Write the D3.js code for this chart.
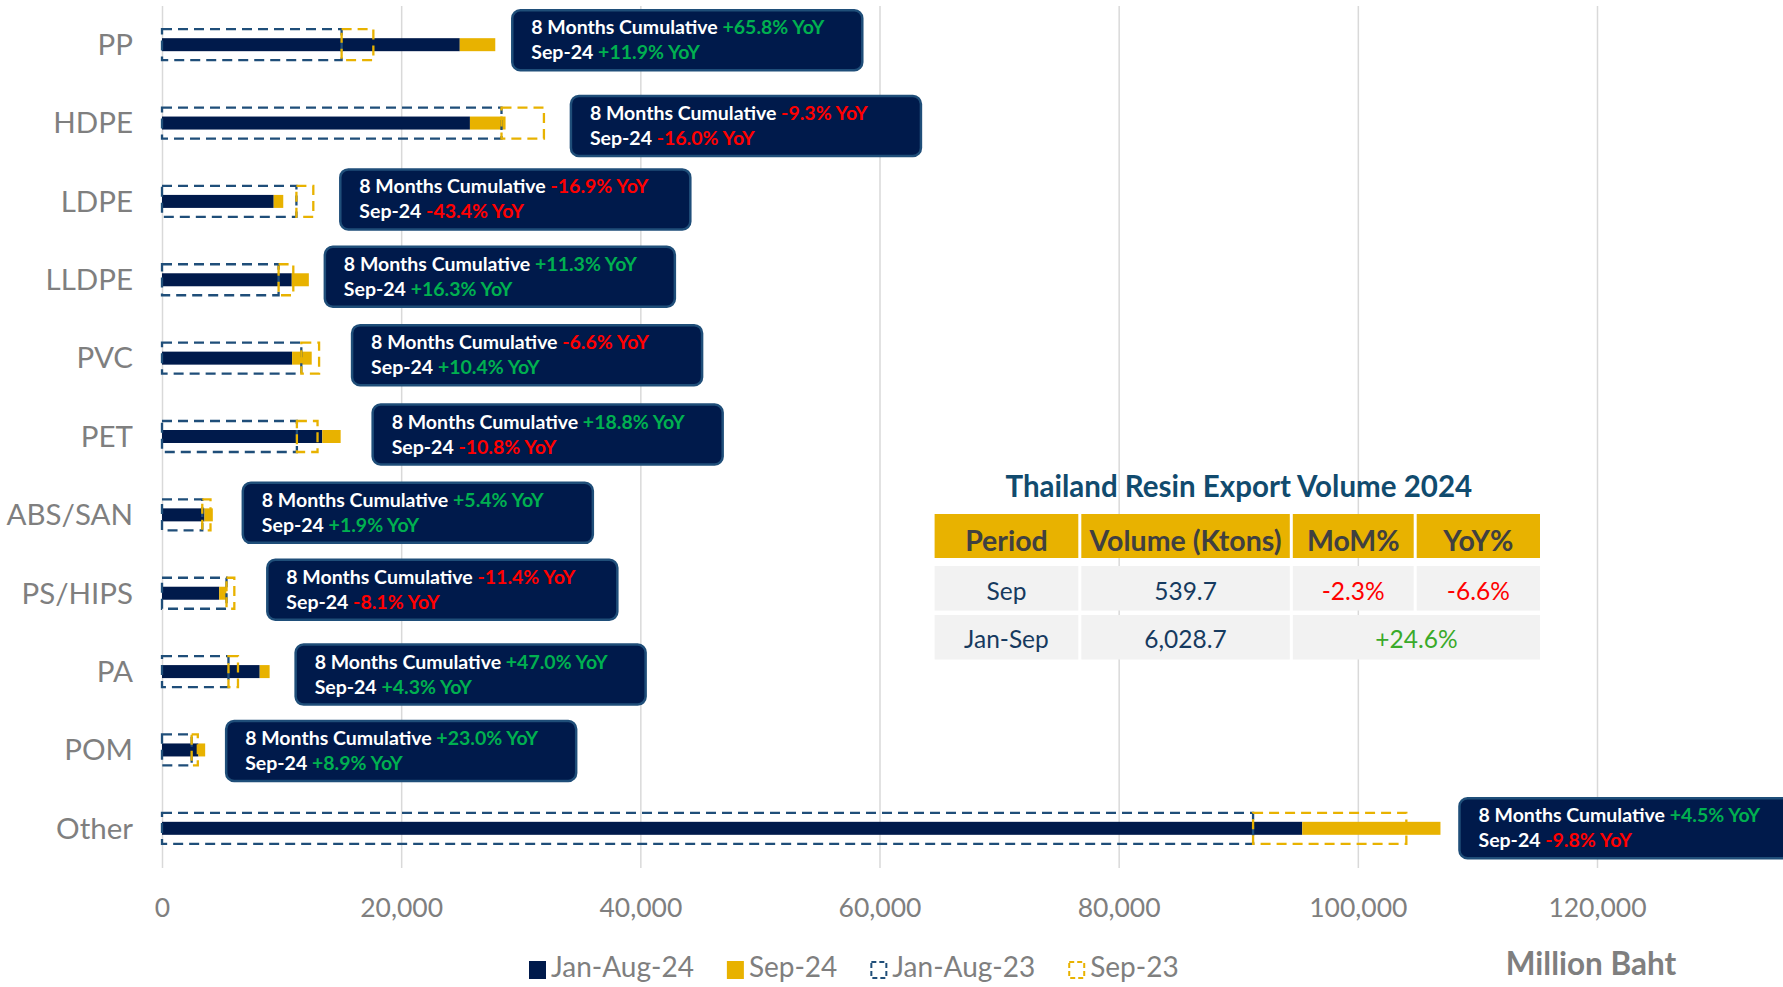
<!DOCTYPE html>
<html>
<head>
<meta charset="utf-8">
<script src="https://cdn.jsdelivr.net/npm/d3@7"></script>
<style>
  html, body { margin: 0; padding: 0; background: #ffffff; }
  svg { display: block; font-family: Lato, "Open Sans", sans-serif; }
</style>
</head>
<body>
<svg id="chart" width="1783" height="987"></svg>
<script>
// ---------------- DATA ----------------
const categories = ["PP", "HDPE", "LDPE", "LLDPE", "PVC", "PET", "ABS/SAN", "PS/HIPS", "PA", "POM", "Other"];
const janAug24 = [24900, 25750, 9340, 10850, 10880, 13400, 3550, 4780, 8170, 3050, 95350];
const sep24    = [2970, 2980, 800, 1430, 1640, 1540, 700, 600, 830, 560, 11560];
const janAug23 = [15020, 28390, 11240, 9750, 11650, 11280, 3368, 5395, 5558, 2480, 91240];
const sep23    = [2654, 3548, 1413, 1230, 1486, 1726, 687, 653, 796, 514, 12816];
const cumYoY   = [65.8, -9.3, -16.9, 11.3, -6.6, 18.8, 5.4, -11.4, 47.0, 23.0, 4.5];
const sepYoY   = [11.9, -16.0, -43.4, 16.3, 10.4, -10.8, 1.9, -8.1, 4.3, 8.9, -9.8];
const xTicks   = [0, 20000, 40000, 60000, 80000, 100000, 120000];
const legendLabels = ["Jan-Aug-24", "Sep-24", "Jan-Aug-23", "Sep-23"];
const unitLabel = "Million Baht";

const tableTitle = "Thailand Resin Export Volume 2024";
const tableHeaders = ["Period", "Volume (Ktons)", "MoM%", "YoY%"];
const tablePeriods = ["Sep", "Jan-Sep"];
const tableVolume = [539.7, 6028.7];
const tableMoM = [-2.3, null];
const tableYoY = [-6.6, 24.6];

// ---------------- LAYOUT (not data) ----------------
const labelGap = [17, 27, 27, 16, 33, 32, 30, 33, 26, 21, 19];
const labelDy  = [-4.5, 3, -2, -3, -3, -2, -2, -3.5, 3, 1, 0];

const C = {
  navy: "#001A4B", gold: "#E8B200", dash: "#1F4E79", grid: "#D9D9D9",
  grey: "#7F7F7F", green: "#00B050", red: "#FF0000",
  boxFill: "#001A4B", boxStroke: "#1F4E79",
  tTitle: "#114B6E", tBody: "#163A5F", tGreen: "#3AAA2A", tHeadFill: "#E8B200",
  tHeadText: "#404040", tBodyFill: "#F2F2F2"
};

const svg = d3.select("#chart");
const x = d3.scaleLinear().domain([0, 120000]).range([162, 1597]);
const y = d3.scaleBand().domain(categories).range([5.5, 867.5]).padding(0);
const cy = c => y(c) + y.bandwidth() / 2;
const fmtPct = v => (v > 0 ? "+" : v < 0 ? "-" : "") + Math.abs(v).toFixed(1) + "%";

// grid
const gridAxis = d3.axisTop(x).tickValues(xTicks).tickSize(-(868 - 6)).tickFormat("");
const gg = svg.append("g").attr("transform", "translate(0,6)").call(gridAxis);
gg.select(".domain").remove();
gg.selectAll("line").attr("stroke", C.grid).attr("stroke-width", 1.5);

// x axis labels
const xAxis = d3.axisBottom(x).tickValues(xTicks).tickSize(0).tickFormat(d3.format(","));
const xg = svg.append("g").attr("transform", "translate(0,895)").call(xAxis);
xg.select(".domain").remove();
xg.selectAll("text").attr("fill", C.grey).attr("font-size", 26.5).attr("font-family", "Lato").attr("dy", "0.7em");

// y axis labels
const yAxis = d3.axisLeft(y).tickSize(0).tickPadding(0);
const yg = svg.append("g").attr("transform", "translate(133,0)").call(yAxis);
yg.select(".domain").remove();
yg.selectAll("text").attr("fill", C.grey).attr("font-size", 29.5).attr("font-family", "Lato").attr("dy", "0.35em");

const rows = categories.map((c, i) => ({
  c, i, a: janAug24[i], s: sep24[i], b: janAug23[i], t: sep23[i], cum: cumYoY[i], sep: sepYoY[i]
}));

const barH = 13, boxH = 31;
// solid bars
svg.append("g").selectAll("rect").data(rows).join("rect")
  .attr("x", d => x(0)).attr("y", d => cy(d.c) - barH / 2)
  .attr("width", d => x(d.a) - x(0)).attr("height", barH)
  .attr("fill", C.navy);
svg.append("g").selectAll("rect").data(rows).join("rect")
  .attr("x", d => x(d.a)).attr("y", d => cy(d.c) - barH / 2)
  .attr("width", d => x(d.a + d.s) - x(d.a)).attr("height", barH)
  .attr("fill", C.gold);

// dashed boxes
svg.append("g").selectAll("rect").data(rows).join("rect")
  .attr("x", d => x(0)).attr("y", d => cy(d.c) - boxH / 2)
  .attr("width", d => x(d.b) - x(0)).attr("height", boxH)
  .attr("fill", "none").attr("stroke", C.dash).attr("stroke-width", 2.3)
  .attr("stroke-dasharray", "10,6");
svg.append("g").selectAll("rect").data(rows).join("rect")
  .attr("x", d => x(d.b)).attr("y", d => cy(d.c) - boxH / 2)
  .attr("width", d => x(d.b + d.t) - x(d.b)).attr("height", boxH)
  .attr("fill", "none").attr("stroke", C.gold).attr("stroke-width", 2.3)
  .attr("stroke-dasharray", "10,6");

// annotation boxes
const boxW = 350, boxHt = 60;
const ann = svg.append("g").selectAll("g").data(rows).join("g")
  .attr("transform", d => {
    const xe = x(Math.max(d.a + d.s, d.b + d.t)) + labelGap[d.i];
    const yt = cy(d.c) + labelDy[d.i] - boxHt / 2;
    return `translate(${xe},${yt})`;
  });
ann.append("rect").attr("width", boxW).attr("height", boxHt).attr("rx", 8)
  .attr("fill", C.boxFill).attr("stroke", C.boxStroke).attr("stroke-width", 2.5);
const t1 = ann.append("text").attr("x", 19).attr("y", 19).attr("dominant-baseline", "middle")
  .attr("font-size", 19.5).attr("font-weight", 700).attr("font-family", "Lato");
t1.append("tspan").attr("fill", "#fff").text("8 Months Cumulative ");
t1.append("tspan").attr("fill", d => d.cum >= 0 ? C.green : C.red).text(d => fmtPct(d.cum) + " YoY");
const t2 = ann.append("text").attr("x", 19).attr("y", 44).attr("dominant-baseline", "middle")
  .attr("font-size", 19.5).attr("font-weight", 700).attr("font-family", "Lato");
t2.append("tspan").attr("fill", "#fff").text("Sep-24 ");
t2.append("tspan").attr("fill", d => d.sep >= 0 ? C.green : C.red).text(d => fmtPct(d.sep) + " YoY");

// legend
const lg = svg.append("g").attr("transform", "translate(529,970)");
let lx = 0;
legendLabels.forEach((lab, i) => {
  const g = lg.append("g").attr("transform", `translate(${lx},0)`);
  if (i === 0 || i === 1) {
    g.append("rect").attr("x", 0).attr("y", -9).attr("width", 17).attr("height", 18)
      .attr("fill", i === 0 ? C.navy : C.gold);
  } else {
    g.append("rect").attr("x", 1).attr("y", -8).attr("width", 15).attr("height", 16)
      .attr("fill", "none").attr("stroke", i === 2 ? C.dash : C.gold).attr("stroke-width", 2)
      .attr("stroke-dasharray", "5,3");
  }
  const tx = g.append("text").attr("x", 22).attr("y", 0).attr("dominant-baseline", "middle")
    .attr("fill", C.grey).attr("font-size", 28).attr("font-family", "Lato").text(lab);
  lx += 22 + tx.node().getComputedTextLength() + 33;
});

svg.append("text").attr("x", 1591).attr("y", 967).attr("text-anchor", "middle")
  .attr("dominant-baseline", "middle").attr("fill", C.grey).attr("font-size", 31.5)
  .attr("font-weight", 700).attr("font-family", "Lato").text(unitLabel);

// table
const colX = [934.6, 1081.3, 1292.8, 1416.7, 1543];
const headY = [514, 558], rowY = [[566, 610.6], [615, 659.5]];
const tg = svg.append("g");
tg.append("text").attr("x", (colX[0] + colX[4]) / 2).attr("y", 489).attr("text-anchor", "middle")
  .attr("dominant-baseline", "middle").attr("fill", C.tTitle).attr("font-size", 29.5)
  .attr("font-weight", 700).attr("font-family", "Lato").text(tableTitle);
tableHeaders.forEach((h, j) => {
  const x0 = colX[j], x1 = colX[j + 1] - 3;
  tg.append("rect").attr("x", x0).attr("y", headY[0]).attr("width", x1 - x0).attr("height", headY[1] - headY[0]).attr("fill", C.tHeadFill);
  tg.append("text").attr("x", (x0 + x1) / 2).attr("y", (headY[0] + headY[1]) / 2 + 8).attr("text-anchor", "middle")
    .attr("dominant-baseline", "middle").attr("fill", C.tHeadText).attr("font-size", 28.5).attr("font-weight", 700)
    .attr("font-family", "Lato").text(h);
});
tablePeriods.forEach((p, r) => {
  const [y0, y1] = rowY[r];
  const cells = [];
  cells.push({ j0: 0, j1: 1, text: p, color: C.tBody });
  cells.push({ j0: 1, j1: 2, text: d3.format(",.1f")(tableVolume[r]), color: C.tBody });
  if (tableMoM[r] !== null) {
    cells.push({ j0: 2, j1: 3, text: fmtPct(tableMoM[r]), color: tableMoM[r] < 0 ? C.red : C.tGreen });
    cells.push({ j0: 3, j1: 4, text: fmtPct(tableYoY[r]), color: tableYoY[r] < 0 ? C.red : C.tGreen });
  } else {
    cells.push({ j0: 2, j1: 4, text: fmtPct(tableYoY[r]), color: tableYoY[r] < 0 ? C.red : C.tGreen });
  }
  cells.forEach(cl => {
    const x0 = colX[cl.j0], x1 = colX[cl.j1] - 3;
    tg.append("rect").attr("x", x0).attr("y", y0).attr("width", x1 - x0).attr("height", y1 - y0).attr("fill", C.tBodyFill);
    tg.append("text").attr("x", (x0 + x1) / 2).attr("y", (y0 + y1) / 2 + 5).attr("text-anchor", "middle")
      .attr("dominant-baseline", "middle").attr("fill", cl.color).attr("font-size", 24.5)
      .attr("font-family", "Lato").text(cl.text);
  });
});
</script>
</body>
</html>
